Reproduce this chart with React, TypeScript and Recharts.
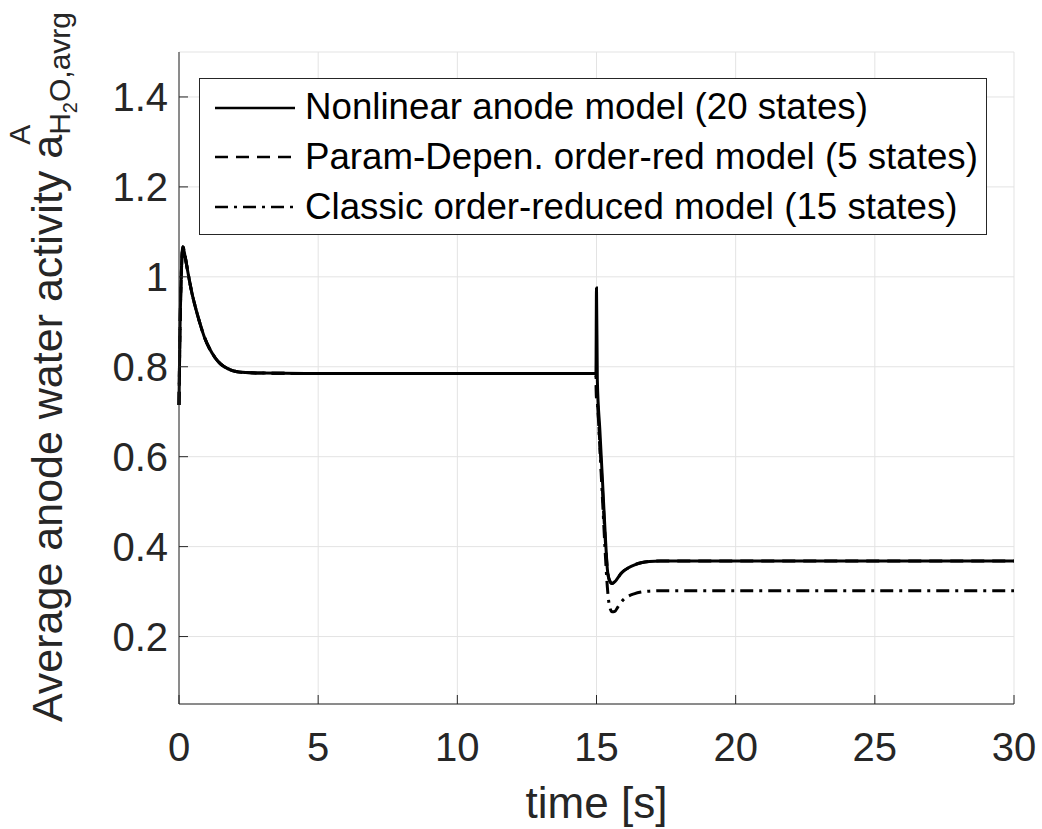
import React from 'react';
import { LineChart, Line, XAxis, YAxis, CartesianGrid, Legend } from 'recharts';

// sample times [s]
const time = [
  0, 0.03, 0.08, 0.14, 0.22, 0.32, 0.45, 0.6, 0.75, 0.9, 1.1, 1.3, 1.5, 1.75, 2.0, 2.4, 3.0, 5, 10, 14.98,
  15.0, 15.03, 15.12, 15.22, 15.32, 15.39, 15.46, 15.56, 15.66, 15.76, 15.88, 16.0, 16.15, 16.35, 16.6, 16.9,
  17.3, 18, 20, 25, 30,
];

const nonlinear = [
  0.715, 0.86, 1.0, 1.067, 1.045, 1.01, 0.968, 0.93, 0.897, 0.868, 0.84, 0.82, 0.806, 0.796, 0.79, 0.787, 0.786, 0.785, 0.785, 0.785,
  0.975, 0.77, 0.66, 0.54, 0.42, 0.35, 0.326, 0.318, 0.322, 0.33, 0.34, 0.347, 0.353, 0.359, 0.364, 0.367,
  0.368, 0.368, 0.368, 0.368, 0.368,
];

const paramDepen = [
  0.715, 0.86, 1.0, 1.067, 1.045, 1.01, 0.968, 0.93, 0.897, 0.868, 0.84, 0.82, 0.806, 0.796, 0.79, 0.787, 0.786, 0.785, 0.785, 0.785,
  0.73, 0.72, 0.63, 0.52, 0.41, 0.35, 0.326, 0.318, 0.322, 0.33, 0.34, 0.347, 0.353, 0.359, 0.364, 0.367,
  0.368, 0.368, 0.368, 0.368, 0.368,
];

const classic = [
  0.715, 0.86, 1.0, 1.067, 1.045, 1.01, 0.968, 0.93, 0.897, 0.868, 0.84, 0.82, 0.806, 0.796, 0.79, 0.787, 0.786, 0.785, 0.785, 0.785,
  0.73, 0.72, 0.62, 0.5, 0.38, 0.31, 0.27, 0.255, 0.256, 0.265, 0.276, 0.284, 0.29, 0.295, 0.299, 0.301,
  0.302, 0.302, 0.302, 0.302, 0.302,
];

const xTicks = [0, 5, 10, 15, 20, 25, 30];
const yTicks = [0.2, 0.4, 0.6, 0.8, 1, 1.2, 1.4];

const seriesNames = [
  'Nonlinear anode model (20 states)',
  'Param-Depen. order-red model (5 states)',
  'Classic order-reduced model (15 states)',
];
const seriesKeys = ['nonlinear', 'param', 'classic'];
const seriesDash = [undefined, '13 8', '13 6 3 6'];

const data = time.map((t, i) => ({
  t,
  nonlinear: nonlinear[i],
  param: paramDepen[i],
  classic: classic[i],
}));

const FONT = '"Liberation Sans", Arial, Helvetica, sans-serif';
const AXIS = '#262626';

const YLabel = (props: any) => {
  const vb = props.viewBox || { x: 0, y: 52, width: 179, height: 652 };
  const cx = 62;
  const cy = vb.y + vb.height / 2 - 11;
  return (
    <text
      x={cx}
      y={cy}
      transform={`rotate(-90, ${cx}, ${cy})`}
      textAnchor="middle"
      fill={AXIS}
      fontSize={43}
      fontFamily={FONT}
    >
      Average anode water activity a
      <tspan fontSize={30} dx={-10} dy={-32}>A</tspan>
      <tspan fontSize={30} dx={-10} dy={40}>H</tspan>
      <tspan fontSize={20} dy={7}>2</tspan>
      <tspan fontSize={30} dy={-7}>O,avrg</tspan>
    </text>
  );
};

const XLabel = (props: any) => {
  const vb = props.viewBox || { x: 179, y: 704, width: 835, height: 125 };
  return (
    <text x={vb.x + vb.width / 2} y={vb.y + 114} textAnchor="middle" fill={AXIS} fontSize={44} fontFamily={FONT}>
      time [s]
    </text>
  );
};

const LegendBox = () => (
  <div
    style={{
      boxSizing: 'border-box',
      width: 788,
      height: 157,
      border: `1px solid ${AXIS}`,
      background: '#fff',
      paddingTop: 4,
      fontFamily: FONT,
      fontSize: 36.7,
      color: '#000',
    }}
  >
    {seriesNames.map((name, i) => (
      <div key={name} style={{ display: 'flex', alignItems: 'center', height: 49.6, paddingLeft: 15 }}>
        <svg width={80} height={10} style={{ marginRight: 10, flex: 'none' }}>
          <line x1={0} y1={5} x2={80} y2={5} stroke="#000" strokeWidth={2.5} strokeDasharray={seriesDash[i]} />
        </svg>
        <span style={{ whiteSpace: 'nowrap', lineHeight: 1 }}>{name}</span>
      </div>
    ))}
  </div>
);

export default function App() {
  const tickStyle = { fill: AXIS, fontSize: 40, fontFamily: FONT };
  return (
    <div style={{ position: 'absolute', left: 0, top: 0, width: 1042, height: 829, background: '#fff' }}>
      <LineChart width={1042} height={829} data={data} margin={{ top: 52, right: 28, bottom: 0, left: 0 }}>
        <CartesianGrid stroke="#e3e3e3" strokeWidth={1} />
        <XAxis
          dataKey="t"
          type="number"
          domain={[0, 30]}
          ticks={xTicks}
          height={125}
          tick={tickStyle}
          tickSize={-9}
          tickMargin={38}
          tickLine={{ stroke: AXIS }}
          axisLine={{ stroke: AXIS }}
          label={<XLabel />}
        />
        <XAxis
          xAxisId="top"
          orientation="top"
          dataKey="t"
          type="number"
          domain={[0, 30]}
          ticks={xTicks}
          height={0}
          tick={false}
          tickSize={-9}
          tickLine={{ stroke: AXIS }}
          axisLine={{ stroke: AXIS }}
        />
        <YAxis
          type="number"
          domain={[0.05, 1.5]}
          allowDataOverflow
          ticks={yTicks}
          width={179}
          tick={tickStyle}
          tickFormatter={(v: number) => String(v)}
          tickSize={-9}
          tickMargin={20}
          tickLine={{ stroke: AXIS }}
          axisLine={{ stroke: AXIS }}
          label={<YLabel />}
        />
        <YAxis
          yAxisId="right"
          orientation="right"
          type="number"
          domain={[0.05, 1.5]}
          allowDataOverflow
          ticks={yTicks}
          width={0}
          tick={false}
          tickSize={-9}
          tickLine={{ stroke: AXIS }}
          axisLine={{ stroke: AXIS }}
        />
        {seriesKeys.map((k, i) => (
          <Line
            key={k}
            dataKey={k}
            name={seriesNames[i]}
            type="monotone"
            stroke="#000"
            strokeWidth={3}
            strokeDasharray={seriesDash[i]}
            dot={false}
            activeDot={false}
            isAnimationActive={false}
          />
        ))}
        <Legend
          layout="horizontal"
          verticalAlign="middle"
          content={<LegendBox />}
          wrapperStyle={{ left: 199, top: 78, width: 788, height: 157 }}
        />
      </LineChart>
    </div>
  );
}
